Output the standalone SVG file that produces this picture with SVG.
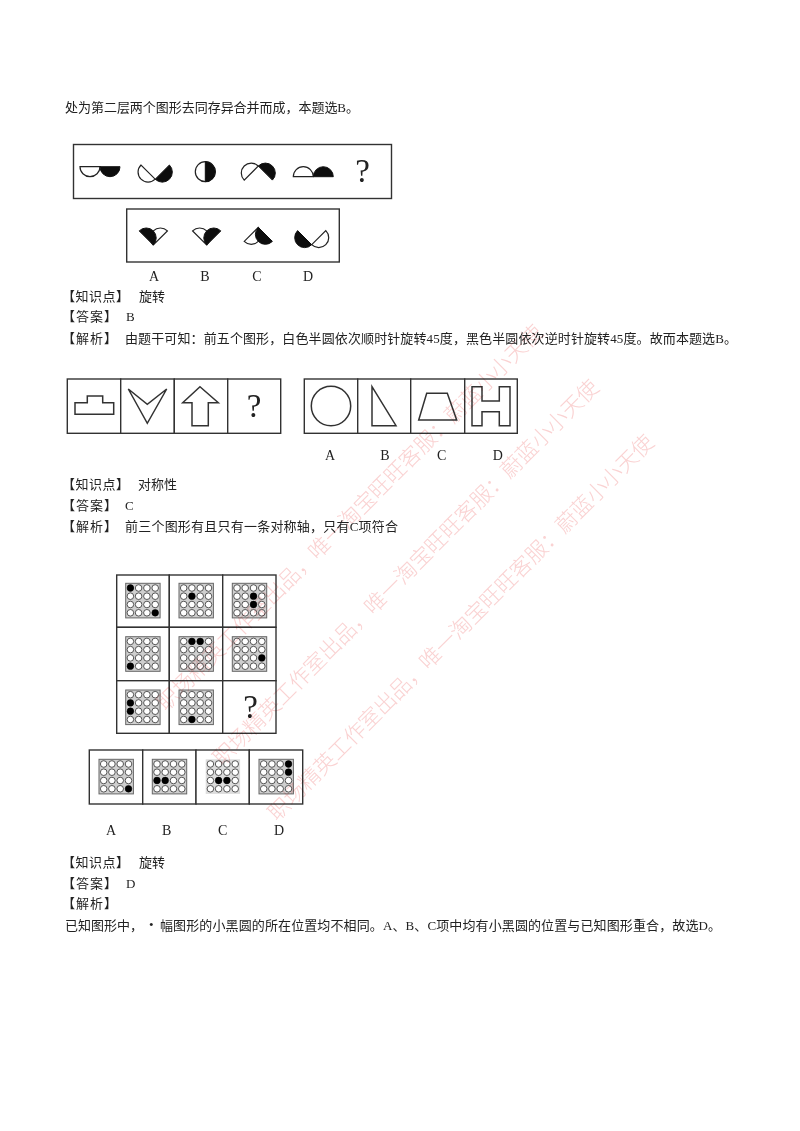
<svg xmlns="http://www.w3.org/2000/svg" width="800" height="1131" viewBox="0 0 800 1131">
<style>
.t{font-family:"Liberation Serif","Noto Sans CJK SC",serif;font-size:13px;fill:#222}
.l{font-family:"Liberation Serif",serif;font-size:14px;fill:#222;text-anchor:middle}
.q{font-family:"Liberation Serif",serif;font-size:33px;fill:#222;text-anchor:middle}
.w{font-family:"Noto Sans CJK SC",serif;font-size:21.5px;font-weight:300;fill:#fad2d2}
.b{fill:#fff;stroke:#333;stroke-width:1.4}
.s{fill:#fff;stroke:#222;stroke-width:1.2}
.k{fill:#111;stroke:#111;stroke-width:1}
.c{fill:none;stroke:#333;stroke-width:1.5}
.o{fill:#fff;stroke:#444;stroke-width:.9}
.d{fill:#000;r:3.4px}
</style>
<defs>
<filter id="soft" x="-5%" y="-5%" width="110%" height="110%"><feGaussianBlur stdDeviation="0.4"/></filter>
<g id="cells">
<circle class="o" cx="4.7" cy="4.7" r="3.3"/><circle class="o" cx="12.9" cy="4.7" r="3.3"/><circle class="o" cx="21.2" cy="4.7" r="3.3"/><circle class="o" cx="29.5" cy="4.7" r="3.3"/>
<circle class="o" cx="4.7" cy="12.9" r="3.3"/><circle class="o" cx="12.9" cy="12.9" r="3.3"/><circle class="o" cx="21.2" cy="12.9" r="3.3"/><circle class="o" cx="29.5" cy="12.9" r="3.3"/>
<circle class="o" cx="4.7" cy="21.2" r="3.3"/><circle class="o" cx="12.9" cy="21.2" r="3.3"/><circle class="o" cx="21.2" cy="21.2" r="3.3"/><circle class="o" cx="29.5" cy="21.2" r="3.3"/>
<circle class="o" cx="4.7" cy="29.5" r="3.3"/><circle class="o" cx="12.9" cy="29.5" r="3.3"/><circle class="o" cx="21.2" cy="29.5" r="3.3"/><circle class="o" cx="29.5" cy="29.5" r="3.3"/>
</g>
<g id="grid"><rect x="0" y="0" width="34.4" height="34.6" fill="#cfcfcf" stroke="#666" stroke-width="1"/><use href="#cells"/></g>
<g id="gridlight"><rect x="0" y="0" width="34.4" height="34.6" fill="#dcdcdc"/><use href="#cells"/></g>
</defs>

<g id="text" filter="url(#soft)">
<text class="t" x="65" y="112" textLength="294">处为第二层两个图形去同存异合并而成，本题选B。</text>
<text class="t" x="62" y="301" textLength="67">【知识点】</text><text class="t" x="139" y="301" textLength="26">旋转</text>
<text class="t" x="62" y="321" textLength="55">【答案】</text><text class="t" x="126" y="321">B</text>
<text class="t" x="62" y="343" textLength="55">【解析】</text><text class="t" x="125" y="343" textLength="612">由题干可知：前五个图形，白色半圆依次顺时针旋转45度，黑色半圆依次逆时针旋转45度。故而本题选B。</text>
<text class="t" x="62" y="489" textLength="67">【知识点】</text><text class="t" x="138" y="489" textLength="39">对称性</text>
<text class="t" x="62" y="510" textLength="55">【答案】</text><text class="t" x="125" y="510">C</text>
<text class="t" x="62" y="531" textLength="55">【解析】</text><text class="t" x="125" y="531" textLength="273">前三个图形有且只有一条对称轴，只有C项符合</text>
<text class="t" x="62" y="867" textLength="67">【知识点】</text><text class="t" x="139" y="867" textLength="26">旋转</text>
<text class="t" x="62" y="888" textLength="55">【答案】</text><text class="t" x="126" y="888">D</text>
<text class="t" x="62" y="908" textLength="55">【解析】</text>
<text class="t" x="65" y="930" textLength="78">已知图形中，</text><text class="t" x="149" y="929">•</text><text class="t" x="160" y="930" textLength="561">幅图形的小黑圆的所在位置均不相同。A、B、C项中均有小黑圆的位置与已知图形重合，故选D。</text>
</g>

<g id="figure1" filter="url(#soft)">
<rect class="b" x="73.5" y="144.5" width="318" height="54"/>
<path class="s" d="M80 166.7A1 1 0 0 0 100 166.7Z"/><path class="k" d="M100 166.7A1 1 0 0 0 120 166.7Z"/>
<path class="s" d="M141 165A1 1 0 0 0 155.2 179.2Z"/><path class="k" d="M169.4 165A1 1 0 0 1 155.2 179.2Z"/>
<circle class="s" cx="205.3" cy="171.7" r="10"/><path class="k" d="M205.3 161.7A10 10 0 0 1 205.3 181.7Z"/>
<path class="s" d="M258.3 166A1 1 0 0 0 244.2 180.1Z"/><path class="k" d="M258.3 166A1 1 0 0 1 272.4 180.1Z"/>
<path class="s" d="M293.3 176.7A1 1 0 0 1 313.3 176.7Z"/><path class="k" d="M313.3 176.7A1 1 0 0 1 333.3 176.7Z"/>
<text class="q" x="362.5" y="182">?</text>
<rect class="b" x="126.7" y="209" width="212.6" height="53"/>
<path class="s" d="M167.4 230.9A1 1 0 0 0 153.3 245Z"/><path class="k" d="M139.2 230.9A1 1 0 0 1 153.3 245Z"/>
<path class="s" d="M192.6 230.9A1 1 0 0 1 206.7 245Z"/><path class="k" d="M220.8 230.9A1 1 0 0 0 206.7 245Z"/>
<path class="s" d="M258.3 227.3A1 1 0 0 1 244.2 241.4Z"/><path class="k" d="M258.3 227.3A1 1 0 0 0 272.4 241.4Z"/>
<path class="s" d="M325.8 230.6A1 1 0 0 1 311.7 244.7Z"/><path class="k" d="M297.6 230.6A1 1 0 0 0 311.7 244.7Z"/>
<text class="l" x="154" y="281">A</text><text class="l" x="205" y="281">B</text><text class="l" x="257" y="281">C</text><text class="l" x="308" y="281">D</text>
</g>

<g id="figure2" filter="url(#soft)">
<rect class="b" x="67.3" y="379" width="53.4" height="54.3"/><rect class="b" x="120.7" y="379" width="53.6" height="54.3"/><rect class="b" x="174.3" y="379" width="53.4" height="54.3"/><rect class="b" x="227.7" y="379" width="53" height="54.3"/>
<polygon class="c" points="75,402.7 87.3,402.7 87.3,396 102.7,396 102.7,402.7 113.7,402.7 113.7,414.3 75,414.3"/>
<polygon class="c" points="128.3,389 147.3,404.3 166.7,389 147.3,423.3"/>
<polygon class="c" points="200,386.7 218.3,402.7 208.3,402.7 208.3,425.7 192,425.7 192,402.7 182.7,402.7"/>
<text class="q" x="254" y="417">?</text>
<rect class="b" x="304.3" y="379" width="53.4" height="54.3"/><rect class="b" x="357.7" y="379" width="53" height="54.3"/><rect class="b" x="410.7" y="379" width="54" height="54.3"/><rect class="b" x="464.7" y="379" width="52.6" height="54.3"/>
<circle class="c" cx="331" cy="406" r="19.7"/>
<polygon class="c" points="372,386.7 396,425.7 372,425.7"/>
<polygon class="c" points="426.7,393.3 447.3,393.3 456.7,420 418.7,420"/>
<polygon class="c" points="472,386.7 482,386.7 482,401 499.3,401 499.3,386.7 510,386.7 510,425.7 499.3,425.7 499.3,411.7 482,411.7 482,425.7 472,425.7"/>
<text class="l" x="330" y="460">A</text><text class="l" x="385" y="460">B</text><text class="l" x="441.7" y="460">C</text><text class="l" x="497.7" y="460">D</text>
</g>

<g id="figure3" filter="url(#soft)">
<rect class="b" x="116.7" y="575" width="52.6" height="52.3"/><rect class="b" x="169.3" y="575" width="53.4" height="52.3"/><rect class="b" x="222.7" y="575" width="53.3" height="52.3"/>
<rect class="b" x="116.7" y="627.3" width="52.6" height="53.4"/><rect class="b" x="169.3" y="627.3" width="53.4" height="53.4"/><rect class="b" x="222.7" y="627.3" width="53.3" height="53.4"/>
<rect class="b" x="116.7" y="680.7" width="52.6" height="52.6"/><rect class="b" x="169.3" y="680.7" width="53.4" height="52.6"/><rect class="b" x="222.7" y="680.7" width="53.3" height="52.6"/>
<g transform="translate(125.7 583.3)"><use href="#grid"/><circle class="d" cx="4.7" cy="4.7"/><circle class="d" cx="29.5" cy="29.5"/></g>
<g transform="translate(179 583.3)"><use href="#grid"/><circle class="d" cx="12.9" cy="12.9"/></g>
<g transform="translate(232.3 583.3)"><use href="#grid"/><circle class="d" cx="21.2" cy="12.9"/><circle class="d" cx="21.2" cy="21.2"/></g>
<g transform="translate(125.7 636.7)"><use href="#grid"/><circle class="d" cx="4.7" cy="29.5"/></g>
<g transform="translate(179 636.7)"><use href="#grid"/><circle class="d" cx="12.9" cy="4.7"/><circle class="d" cx="21.2" cy="4.7"/></g>
<g transform="translate(232.3 636.7)"><use href="#grid"/><circle class="d" cx="29.5" cy="21.2"/></g>
<g transform="translate(125.7 690)"><use href="#grid"/><circle class="d" cx="4.7" cy="12.9"/><circle class="d" cx="4.7" cy="21.2"/></g>
<g transform="translate(179 690)"><use href="#grid"/><circle class="d" cx="12.9" cy="29.5"/></g>
<text class="q" x="250.5" y="718">?</text>
<rect class="b" x="89.3" y="750" width="53.4" height="54"/><rect class="b" x="142.7" y="750" width="53.3" height="54"/><rect class="b" x="196" y="750" width="53.3" height="54"/><rect class="b" x="249.3" y="750" width="53.4" height="54"/>
<g transform="translate(99 759.3)"><use href="#grid"/><circle class="d" cx="29.5" cy="29.5"/></g>
<g transform="translate(152.3 759.3)"><use href="#grid"/><circle class="d" cx="4.7" cy="21.2"/><circle class="d" cx="12.9" cy="21.2"/></g>
<g transform="translate(205.7 759.3)"><use href="#gridlight"/><circle class="d" cx="12.9" cy="21.2"/><circle class="d" cx="21.2" cy="21.2"/></g>
<g transform="translate(259 759.3)"><use href="#grid"/><circle class="d" cx="29.5" cy="4.7"/><circle class="d" cx="29.5" cy="12.9"/></g>
<text class="l" x="111" y="835">A</text><text class="l" x="166.7" y="835">B</text><text class="l" x="222.7" y="835">C</text><text class="l" x="279" y="835">D</text>
</g>

<g id="watermark" style="mix-blend-mode:multiply">
<text class="w" transform="translate(166 712) rotate(-45)" textLength="535">职场精英工作室出品，唯一淘宝旺旺客服：蔚蓝小小天使</text>
<text class="w" transform="translate(222 767) rotate(-45)" textLength="535">职场精英工作室出品，唯一淘宝旺旺客服：蔚蓝小小天使</text>
<text class="w" transform="translate(277 822) rotate(-45)" textLength="535">职场精英工作室出品，唯一淘宝旺旺客服：蔚蓝小小天使</text>
</g>
</svg>
